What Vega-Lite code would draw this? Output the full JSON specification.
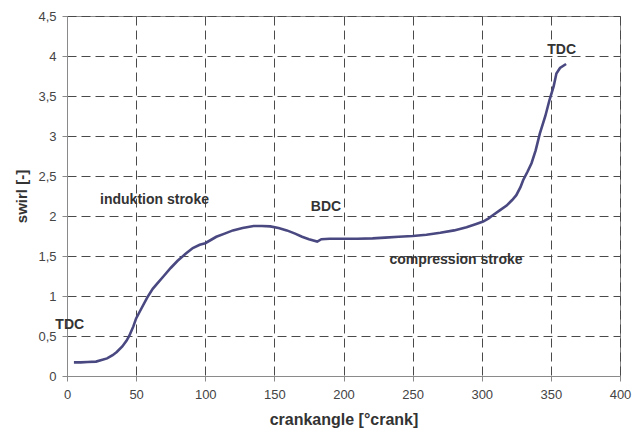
{
  "$schema": "https://vega.github.io/schema/vega-lite/v6.json",
  "width": 553,
  "height": 360,
  "autosize": {"type": "none"},
  "padding": {"left": 67, "top": 16, "right": 17, "bottom": 57},
  "background": "white",
  "config": {
    "view": {"stroke": "#8a8a8a", "strokeWidth": 1},
    "font": "Liberation Sans"
  },
  "datasets": {
    "curve": [
      {"angle": 5, "swirl": 0.17}, {"angle": 10, "swirl": 0.17}, {"angle": 15, "swirl": 0.175},
      {"angle": 21, "swirl": 0.18}, {"angle": 25, "swirl": 0.2}, {"angle": 29, "swirl": 0.22},
      {"angle": 33, "swirl": 0.26}, {"angle": 36, "swirl": 0.3}, {"angle": 40, "swirl": 0.37},
      {"angle": 43, "swirl": 0.44}, {"angle": 45, "swirl": 0.5}, {"angle": 48, "swirl": 0.62},
      {"angle": 50, "swirl": 0.72}, {"angle": 54, "swirl": 0.85}, {"angle": 58, "swirl": 0.98},
      {"angle": 62, "swirl": 1.09}, {"angle": 66, "swirl": 1.17}, {"angle": 70, "swirl": 1.25},
      {"angle": 75, "swirl": 1.35}, {"angle": 80, "swirl": 1.44}, {"angle": 86, "swirl": 1.53},
      {"angle": 91, "swirl": 1.6}, {"angle": 96, "swirl": 1.64}, {"angle": 100, "swirl": 1.66},
      {"angle": 104, "swirl": 1.7}, {"angle": 108, "swirl": 1.74}, {"angle": 114, "swirl": 1.78},
      {"angle": 120, "swirl": 1.82}, {"angle": 127, "swirl": 1.85}, {"angle": 135, "swirl": 1.875},
      {"angle": 141, "swirl": 1.875}, {"angle": 147, "swirl": 1.87}, {"angle": 153, "swirl": 1.85},
      {"angle": 159, "swirl": 1.82}, {"angle": 165, "swirl": 1.78}, {"angle": 170, "swirl": 1.74},
      {"angle": 175, "swirl": 1.71}, {"angle": 181, "swirl": 1.68}, {"angle": 184, "swirl": 1.71},
      {"angle": 190, "swirl": 1.715}, {"angle": 200, "swirl": 1.715}, {"angle": 210, "swirl": 1.715},
      {"angle": 221, "swirl": 1.72}, {"angle": 230, "swirl": 1.73}, {"angle": 240, "swirl": 1.74},
      {"angle": 250, "swirl": 1.75}, {"angle": 260, "swirl": 1.765}, {"angle": 270, "swirl": 1.79},
      {"angle": 280, "swirl": 1.82}, {"angle": 289, "swirl": 1.86}, {"angle": 296, "swirl": 1.9},
      {"angle": 301, "swirl": 1.93}, {"angle": 305, "swirl": 1.97}, {"angle": 308, "swirl": 2.01},
      {"angle": 313, "swirl": 2.07}, {"angle": 318, "swirl": 2.13}, {"angle": 322, "swirl": 2.2},
      {"angle": 325, "swirl": 2.26}, {"angle": 328, "swirl": 2.36}, {"angle": 330, "swirl": 2.45},
      {"angle": 333, "swirl": 2.55}, {"angle": 336, "swirl": 2.66}, {"angle": 339, "swirl": 2.82},
      {"angle": 342, "swirl": 3.03}, {"angle": 346, "swirl": 3.25}, {"angle": 349, "swirl": 3.45},
      {"angle": 352, "swirl": 3.62}, {"angle": 354, "swirl": 3.78}, {"angle": 356.6, "swirl": 3.85},
      {"angle": 361, "swirl": 3.9}
    ],
    "labels": [
      {"angle": 2, "swirl": 0.64, "text": "TDC", "align": "left"},
      {"angle": 63.3, "swirl": 2.2, "text": "induktion stroke", "align": "center"},
      {"angle": 187.3, "swirl": 2.11, "text": "BDC", "align": "center"},
      {"angle": 281.4, "swirl": 1.45, "text": "compression stroke", "align": "center"},
      {"angle": 357.8, "swirl": 4.075, "text": "TDC", "align": "center"}
    ]
  },
  "encoding": {
    "x": {
      "field": "angle", "type": "quantitative",
      "scale": {"domain": [0, 400], "nice": false},
      "axis": {
        "title": "crankangle [°crank]",
        "values": [0, 50, 100, 150, 200, 250, 300, 350, 400],
        "labelOverlap": false,
        "grid": true, "gridDash": [9, 5], "gridColor": "#4a4a4a", "gridWidth": 1, "gridOpacity": 1,
        "domainColor": "#8a8a8a", "tickColor": "#8a8a8a", "tickSize": 5,
        "labelFont": "Liberation Sans", "labelFontSize": 13, "labelColor": "#444444", "labelPadding": 7,
        "labelFlush": false,
        "titleFont": "Liberation Sans", "titleFontSize": 16, "titleFontWeight": "bold", "titleColor": "#333333",
        "titlePadding": 10
      }
    },
    "y": {
      "field": "swirl", "type": "quantitative",
      "scale": {"domain": [0, 4.5], "nice": false},
      "axis": {
        "title": "swirl [-]",
        "values": [0, 0.5, 1, 1.5, 2, 2.5, 3, 3.5, 4, 4.5],
        "labelOverlap": false,
        "labelExpr": "replace(format(datum.value, '.1~f'), '.', ',')",
        "grid": true, "gridDash": [9, 5], "gridColor": "#4a4a4a", "gridWidth": 1, "gridOpacity": 1,
        "domainColor": "#8a8a8a", "tickColor": "#8a8a8a", "tickSize": 5,
        "labelFont": "Liberation Sans", "labelFontSize": 13, "labelColor": "#444444", "labelPadding": 6,
        "labelFlush": false,
        "titleFont": "Liberation Sans", "titleFontSize": 15, "titleFontWeight": "bold", "titleColor": "#333333",
        "titlePadding": 8
      }
    }
  },
  "layer": [
    {
      "data": {"name": "curve"},
      "mark": {"type": "line", "color": "#4a4880", "strokeWidth": 2.6, "interpolate": "linear"}
    },
    {
      "data": {"name": "labels"},
      "mark": {"type": "text", "font": "Liberation Sans", "fontSize": 14, "fontWeight": "bold", "color": "#333333", "baseline": "middle"},
      "encoding": {
        "text": {"field": "text"},
        "align": {"field": "align", "type": "nominal", "scale": null}
      }
    }
  ]
}
